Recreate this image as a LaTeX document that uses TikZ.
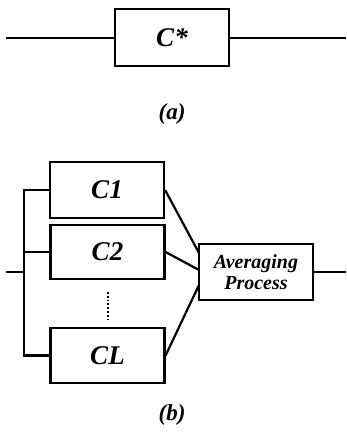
\documentclass[tikz,border=0pt]{standalone}
\usepackage{fontspec}
\setmainfont{Liberation Serif}
\begin{document}
\begin{tikzpicture}[x=1pt,y=-1pt,
  box/.style={draw,line width=2.2pt,inner sep=0pt,minimum width=114pt,minimum height=56pt,
    font=\fontsize{27}{30}\selectfont\bfseries\itshape},
  avgbox/.style={box,font=\fontsize{20}{21}\selectfont\bfseries\itshape,align=center},
  wire/.style={line width=2.2pt},
  lbl/.style={font=\fontsize{23}{26}\selectfont\bfseries\itshape}]
\useasboundingbox (0,0) rectangle (347,437);
% (a)
\node[box,minimum height=57pt] (cs) at (172,37.5) {C*};
\coordinate (ain) at (6,38);
\coordinate (aout) at (346,38);
\draw[wire] (ain) -- (ain -| cs.west);
\draw[wire] (aout -| cs.east) -- (aout);
\node[lbl] (la) at (172,114) {(a)};
% (b)
\node[box] (c1) at (107,190) {C1};
\node[box,minimum height=54pt] (c2) at (107.5,252) {C2};
\node[box,minimum height=55pt] (cl) at (107.5,355.5) {CL};
\node[avgbox] (avg) at (256,272) {Averaging\\Process};
\coordinate (bin) at (6,272);
\coordinate (bj) at (24,272);
\coordinate (bt) at (24,190);
\coordinate (bb) at (24,355.5);
\coordinate (bout) at (346,272);
\draw[wire] (bin) -- (bj);
\draw[wire] (c1.west |- bt) -- (bt) -- (bb) -- (cl.west |- bb);
\draw[wire] (24,252) coordinate (bm) -- (c2.west |- bm);
\coordinate (e1) at (199,253);
\coordinate (e2) at (199,270);
\coordinate (e3) at (199,285);
\draw[wire] (c1.east) -- (e1);
\draw[wire] (c2.east) -- (e2);
\draw[wire] (cl.east) -- (e3);
\draw[wire] (avg.east) -- (bout);
\coordinate (d1) at (108,292);
\coordinate (d2) at (108,320);
\draw[line width=1.8pt,dotted] (d1) -- (d2);
\node[lbl] (lb) at (172,415) {(b)};
\end{tikzpicture}
\end{document}
